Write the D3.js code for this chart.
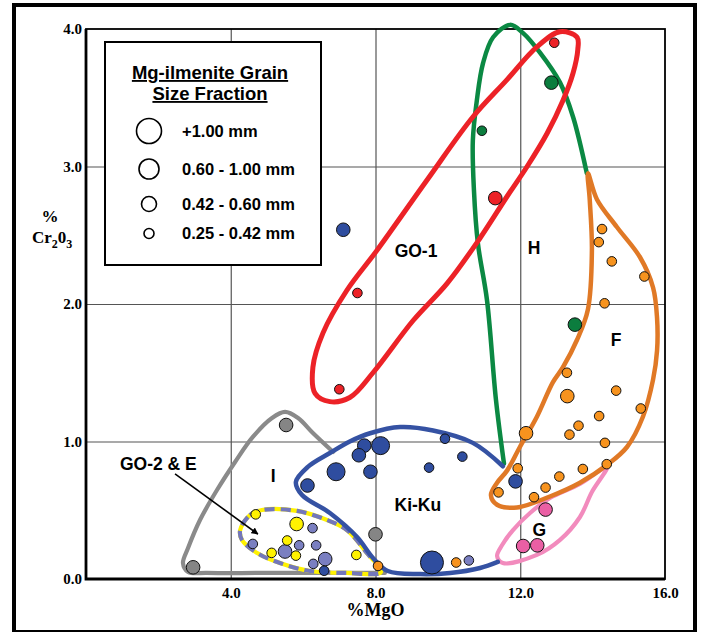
<!DOCTYPE html>
<html>
<head>
<meta charset="utf-8" />
<title>Mg-ilmenite Cr2O3 vs MgO</title>
<script src="https://d3js.org/d3.v7.min.js"></script>
<style>
  body { margin: 0; background: #fff; }
  svg { display: block; }
</style>
</head>
<body>
<svg id="viz"></svg>
<script>

// tick values
var xTicks = [4, 8, 12, 16];
var yTicks = [0, 1, 2, 3, 4];

// legend grain size classes (index used by the points)
var sizeClasses = ["+1.00 mm", "0.60 - 1.00 mm", "0.42 - 0.60 mm", "0.25 - 0.42 mm"];

// points : [MgO, Cr2O3, size class]
var go1Pts = [[12.94, 3.90, 3], [11.31, 2.77, 2], [7.50, 2.08, 3], [7.00, 1.38, 3]];
var hPts = [[12.86, 3.61, 2], [10.94, 3.26, 3], [13.51, 1.85, 2]];
var kikuPts = [[7.11, 2.54, 2], [7.69, 0.97, 2], [8.14, 0.97, 1], [7.54, 0.90, 2], [6.91, 0.78, 1],
  [7.86, 0.78, 2], [6.12, 0.68, 2], [6.58, 0.06, 3], [9.92, 1.02, 3], [10.40, 0.89, 3],
  [9.48, 0.81, 3], [9.56, 0.12, 0], [11.87, 0.71, 2]];
var iPts = [[5.53, 1.12, 2], [2.96, 0.085, 2], [8.00, 0.325, 2]];
var go2Pts = [[4.69, 0.47, 3], [5.82, 0.40, 2], [5.56, 0.28, 3], [5.13, 0.19, 3], [5.80, 0.17, 3], [7.47, 0.175, 3]];
var ePts = [[6.26, 0.37, 3], [4.61, 0.255, 3], [5.50, 0.20, 2], [5.89, 0.245, 3], [6.36, 0.245, 3],
  [6.61, 0.145, 2], [6.28, 0.11, 3], [10.58, 0.135, 3]];
var fPts = [[14.26, 2.545, 3], [14.17, 2.45, 3], [14.53, 2.31, 3], [15.43, 2.20, 3], [14.33, 2.005, 3],
  [13.29, 1.50, 3], [13.30, 1.33, 2], [14.65, 1.37, 3], [15.33, 1.24, 3], [14.18, 1.185, 3],
  [13.61, 1.115, 3], [13.36, 1.05, 3], [14.34, 0.99, 3], [12.16, 1.06, 2], [11.93, 0.805, 3],
  [14.39, 0.835, 3], [13.73, 0.80, 3], [13.08, 0.745, 3], [12.70, 0.665, 3], [12.38, 0.595, 3],
  [11.40, 0.63, 3], [10.23, 0.12, 3], [8.07, 0.095, 3]];
var gPts = [[12.70, 0.505, 2], [12.08, 0.24, 2], [12.47, 0.245, 2]];

// group outlines : [MgO, Cr2O3]
var go1Line = [[13.10, 3.98], [13.57, 3.94], [13.59, 3.85], [13.46, 3.68], [13.18, 3.48], [12.74, 3.24],
  [12.19, 3.00], [11.63, 2.78], [10.89, 2.48], [9.98, 2.15], [9.04, 1.88], [7.93, 1.50], [7.29, 1.32],
  [6.74, 1.29], [6.33, 1.35], [6.27, 1.54], [6.55, 1.79], [7.21, 2.10], [8.04, 2.39], [9.42, 2.90],
  [10.69, 3.36], [11.63, 3.63], [12.46, 3.87]];
var hLine = [[13.84, 2.95], [13.46, 3.36], [13.10, 3.61], [12.54, 3.83], [12.08, 3.97], [11.72, 4.03],
  [11.25, 3.94], [10.97, 3.75], [10.80, 3.48], [10.69, 3.19], [10.72, 2.83], [10.83, 2.44], [11.08, 2.03],
  [11.33, 1.30], [11.55, 0.84]];
var fLine = [[13.87, 2.95], [14.12, 2.76], [14.67, 2.56], [15.31, 2.34], [15.67, 2.12], [15.78, 1.90],
  [15.78, 1.66], [15.67, 1.45], [15.39, 1.18], [14.95, 0.96], [14.40, 0.83], [13.65, 0.70], [12.82, 0.60],
  [11.91, 0.52], [11.36, 0.54], [11.19, 0.61], [11.36, 0.70], [11.64, 0.79], [11.99, 0.96], [12.46, 1.18],
  [12.90, 1.43], [13.18, 1.54], [13.57, 1.74], [13.87, 1.96], [13.98, 2.39], [13.92, 2.76]];
var gLine = [[14.40, 0.815], [13.98, 0.633], [13.65, 0.451], [13.10, 0.284], [12.46, 0.175], [11.52, 0.116],
  [11.36, 0.167], [11.50, 0.247], [11.80, 0.356], [12.27, 0.480], [12.82, 0.589], [13.65, 0.691]];
var kikuLine = [[11.52, 0.82], [10.69, 0.99], [9.59, 1.08], [8.68, 1.105], [7.85, 1.06], [7.29, 1.00],
  [6.74, 0.916], [6.13, 0.815], [5.80, 0.705], [5.97, 0.611], [6.74, 0.48], [7.49, 0.305], [7.93, 0.153],
  [8.34, 0.058], [9.23, 0.036], [10.06, 0.044], [10.89, 0.08], [11.38, 0.124]];
var iLine = [[6.83, 0.924], [6.27, 1.062], [5.86, 1.171], [5.50, 1.215], [5.14, 1.171], [4.61, 1.033],
  [4.12, 0.851], [3.62, 0.647], [3.15, 0.429], [2.82, 0.225], [2.68, 0.116], [2.82, 0.051], [3.34, 0.044],
  [4.81, 0.044], [6.47, 0.044], [8.26, 0.044]];
var go2Line = [[4.26, 0.356], [4.53, 0.465], [4.86, 0.502], [5.83, 0.495], [6.66, 0.429], [7.21, 0.356],
  [7.76, 0.189], [8.15, 0.051], [7.21, 0.044], [6.19, 0.058], [5.36, 0.116], [4.73, 0.189], [4.31, 0.284]];

// group labels
var groupLabels = ["GO-1", "H", "F", "G", "Ki-Ku", "I", "GO-2 & E"];
var labelPos = [[9.12, 2.39], [12.38, 2.41], [14.65, 1.74], [12.53, 0.36], [9.17, 0.54], [5.17, 0.75], [2.00, 0.84]];
var arrowFromTo = [[2.46, 0.764], [4.75, 0.327]];

var width = 701, height = 632;

var svg = d3.select("#viz")
  .attr("width", width)
  .attr("height", height);

svg.append("rect")
  .attr("width", width).attr("height", height)
  .attr("fill", "#fff");

// outer frame
svg.append("rect")
  .attr("x", 14).attr("y", 5)
  .attr("width", 681).attr("height", 627)
  .attr("fill", "none")
  .attr("stroke", "#000")
  .attr("stroke-width", 4);

var xScale = d3.scaleLinear().domain([0, 16]).range([86, 665]);
var yScale = d3.scaleLinear().domain([0, 4]).range([579, 29]);

var rScale = d3.scaleOrdinal().domain([0, 1, 2, 3]).range([11.5, 9, 6.8, 4.8]);

// grid
svg.append("g")
  .attr("transform", "translate(0," + yScale(0) + ")")
  .call(d3.axisBottom(xScale).tickValues([4, 8, 12]).tickSize(-(yScale(0) - yScale(4))).tickFormat(""))
  .call(function(g) { g.select(".domain").remove(); })
  .selectAll("line").attr("stroke", "#555").attr("stroke-width", 1.2);

svg.append("g")
  .attr("transform", "translate(" + xScale(0) + ",0)")
  .call(d3.axisLeft(yScale).tickValues([1, 2, 3]).tickSize(-(xScale(16) - xScale(0))).tickFormat(""))
  .call(function(g) { g.select(".domain").remove(); })
  .selectAll("line").attr("stroke", "#555").attr("stroke-width", 1.2);

// plot frame
svg.append("rect")
  .attr("x", xScale(0)).attr("y", yScale(4))
  .attr("width", xScale(16) - xScale(0))
  .attr("height", yScale(0) - yScale(4))
  .attr("fill", "none")
  .attr("stroke", "#000")
  .attr("stroke-width", 1.8);
svg.append("path")
  .attr("d", "M" + xScale(0) + "," + yScale(4) + "V" + yScale(0) + "H" + xScale(16))
  .attr("fill", "none")
  .attr("stroke", "#000")
  .attr("stroke-width", 2.8);

// axes labels
var xAxis = d3.axisBottom(xScale).tickValues(xTicks).tickSize(0).tickPadding(8).tickFormat(d3.format(".1f"));
svg.append("g")
  .attr("transform", "translate(0," + yScale(0) + ")")
  .call(xAxis)
  .call(function(g) { g.select(".domain").remove(); })
  .selectAll("text")
  .attr("font-family", "'Liberation Serif', 'Times New Roman', serif")
  .attr("font-weight", "bold")
  .attr("font-size", 15)
  .attr("fill", "#000");

var yAxis = d3.axisLeft(yScale).tickValues(yTicks).tickSize(0).tickPadding(4).tickFormat(d3.format(".1f"));
svg.append("g")
  .attr("transform", "translate(" + xScale(0) + ",0)")
  .call(yAxis)
  .call(function(g) { g.select(".domain").remove(); })
  .selectAll("text")
  .attr("font-family", "'Liberation Serif', 'Times New Roman', serif")
  .attr("font-weight", "bold")
  .attr("font-size", 15)
  .attr("fill", "#000");

svg.append("text")
  .attr("x", xScale(8)).attr("y", 616)
  .attr("text-anchor", "middle")
  .attr("font-family", "'Liberation Serif', 'Times New Roman', serif")
  .attr("font-weight", "bold")
  .attr("font-size", 18)
  .text("%MgO");

svg.append("text")
  .attr("x", 50).attr("y", 222)
  .attr("text-anchor", "middle")
  .attr("font-family", "'Liberation Serif', 'Times New Roman', serif")
  .attr("font-weight", "bold")
  .attr("font-size", 17)
  .text("%");
var yt2 = svg.append("text")
  .attr("x", 32).attr("y", 243)
  .attr("font-family", "'Liberation Serif', 'Times New Roman', serif")
  .attr("font-weight", "bold")
  .attr("font-size", 17);
yt2.append("tspan").text("Cr");
yt2.append("tspan").attr("dy", 5).attr("font-size", 12).text("2");
yt2.append("tspan").attr("dy", -5).text("0");
yt2.append("tspan").attr("dy", 5).attr("font-size", 12).text("3");

// outlines
function drawLine(pts, closed, color, w) {
  var line = d3.line()
    .x(function(d) { return xScale(d[0]); })
    .y(function(d) { return yScale(d[1]); })
    .curve(closed ? d3.curveCatmullRomClosed.alpha(0.5) : d3.curveCatmullRom.alpha(0.5));
  return svg.append("path")
    .attr("d", line(pts))
    .attr("fill", "none")
    .attr("stroke", color)
    .attr("stroke-width", w)
    .attr("stroke-linejoin", "round")
    .attr("stroke-linecap", "round");
}

drawLine(iLine, false, "#8a8a8a", 4.2);
drawLine(go2Line, true, "#fff200", 4.2);
drawLine(go2Line, true, "#7377bb", 4.2).attr("stroke-dasharray", "10,6").attr("stroke-linecap", "butt");
drawLine(hLine, false, "#0b8943", 4.5);
drawLine(gLine, true, "#f28bbd", 4.2);
drawLine(fLine, true, "#e07926", 4.5);
drawLine(kikuLine, false, "#3552a3", 4.5);
drawLine(go1Line, true, "#ec2227", 5);

// points
function drawPts(pts, color) {
  svg.append("g").selectAll("circle")
    .data(pts)
    .enter().append("circle")
    .attr("cx", function(d) { return xScale(d[0]); })
    .attr("cy", function(d) { return yScale(d[1]); })
    .attr("r", function(d) { return rScale(d[2]); })
    .attr("fill", color)
    .attr("stroke", "#111")
    .attr("stroke-width", 1);
}

drawPts(go1Pts, "#ec2227");
drawPts(hPts, "#0b7d3e");
drawPts(iPts, "#858585");
drawPts(ePts, "#7a7fc1");
drawPts(go2Pts, "#fff200");
drawPts(kikuPts, "#2f4d9f");
drawPts(fPts, "#f7931e");
drawPts(gPts, "#ea5fa4");

// labels
svg.append("g").selectAll("text")
  .data(groupLabels)
  .enter().append("text")
  .attr("x", function(d, i) { return xScale(labelPos[i][0]); })
  .attr("y", function(d, i) { return yScale(labelPos[i][1]); })
  .attr("dy", "0.35em")
  .attr("text-anchor", "middle")
  .attr("font-family", "'Liberation Sans', Arial, sans-serif")
  .attr("font-weight", "bold")
  .attr("font-size", 17.5)
  .text(function(d) { return d; });

// arrow
svg.append("defs").append("marker")
  .attr("id", "arr")
  .attr("viewBox", "0 0 10 10")
  .attr("refX", 9).attr("refY", 5)
  .attr("markerWidth", 7).attr("markerHeight", 7)
  .attr("markerUnits", "userSpaceOnUse")
  .attr("orient", "auto")
  .append("path").attr("d", "M0,0L10,5L0,10z").attr("fill", "#000");

svg.append("line")
  .attr("x1", xScale(arrowFromTo[0][0])).attr("y1", yScale(arrowFromTo[0][1]))
  .attr("x2", xScale(arrowFromTo[1][0])).attr("y2", yScale(arrowFromTo[1][1]))
  .attr("stroke", "#000")
  .attr("stroke-width", 1.6)
  .attr("marker-end", "url(#arr)");

// legend
var legend = svg.append("g");
legend.append("rect")
  .attr("x", 105).attr("y", 42)
  .attr("width", 216).attr("height", 223)
  .attr("fill", "#fff")
  .attr("stroke", "#000")
  .attr("stroke-width", 2);

var titleLines = ["Mg-ilmenite Grain", "Size Fraction"];
legend.selectAll("text.title")
  .data(titleLines)
  .enter().append("text")
  .attr("class", "title")
  .attr("x", 210)
  .attr("y", function(d, i) { return 79 + i * 21; })
  .attr("text-anchor", "middle")
  .attr("font-family", "'Liberation Sans', Arial, sans-serif")
  .attr("font-weight", "bold")
  .attr("font-size", 18.5)
  .attr("text-decoration", "underline")
  .text(function(d) { return d; });

var legendY = [131, 169, 204, 233.5];
var legendR = d3.scaleOrdinal().domain([0, 1, 2, 3]).range([12.5, 10, 7.5, 5]);
var items = legend.selectAll("g.item")
  .data(sizeClasses)
  .enter().append("g")
  .attr("class", "item")
  .attr("transform", function(d, i) { return "translate(0," + legendY[i] + ")"; });
items.append("circle")
  .attr("cx", 149)
  .attr("r", function(d, i) { return legendR(i); })
  .attr("fill", "#fff")
  .attr("stroke", "#000")
  .attr("stroke-width", 1.6);
items.append("text")
  .attr("x", 182)
  .attr("dy", "0.35em")
  .attr("font-family", "'Liberation Sans', Arial, sans-serif")
  .attr("font-weight", "bold")
  .attr("font-size", 16.5)
  .text(function(d) { return d; });

</script>
</body>
</html>
